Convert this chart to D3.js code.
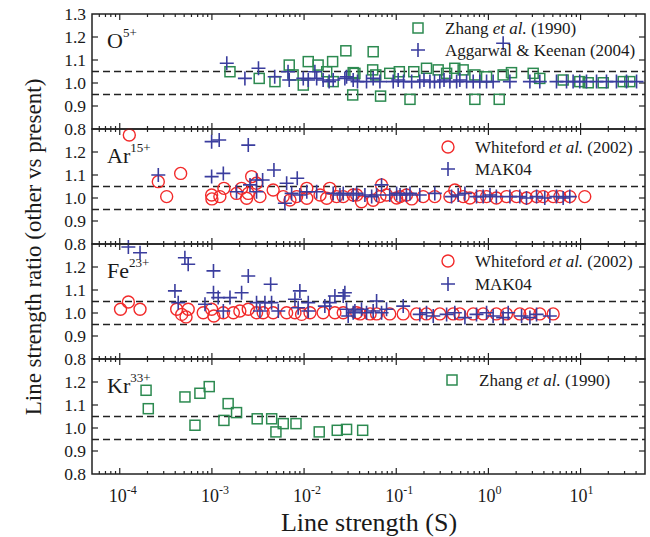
<!DOCTYPE html>
<html>
<head>
<meta charset="utf-8">
<script src="https://cdn.jsdelivr.net/npm/d3@7"></script>
<style>
  body { margin: 0; background: #fff; }
  text { font-family: "Liberation Serif", "Times New Roman", serif; fill: #1a1a1a; }
</style>
</head>
<body>
<svg id="chart" width="650" height="537"></svg>
<script>
// ---- data: [line strength S, ratio] ----
const oZhang = [[1.57e-3,1.049],[3.26e-3,1.020],[4.83e-3,1.006],[6.9e-3,1.078],[7.6e-3,1.035],[9.8e-3,0.991],[1.11e-2,1.093],[1.42e-2,1.078],[1.76e-2,1.049],[2.04e-2,1.093],[2.07e-2,1.006],[2.84e-2,1.140],[3.37e-2,0.948],[3.41e-2,1.045],[3.56e-2,1.042],[5.55e-2,1.057],[5.62e-2,1.136],[6.0e-2,1.035],[6.76e-2,0.943],[8.5e-2,1.042],[0.108,1.049],[0.141,0.929],[0.155,1.049],[0.213,1.064],[0.285,1.057],[0.352,1.042],[0.432,1.064],[0.532,1.057],[0.713,1.035],[0.713,0.929],[0.955,1.027],[1.31,0.929],[1.445,1.035],[1.78,1.045],[3.06,1.042],[3.61,1.020],[6.47,1.013],[9.8,1.006],[12.1,1.001],[17.6,1.001],[29,1.006],[34.2,1.006]];
const oAggarwal = [[1.45e-3,1.086],[2.28e-3,1.020],[3.2e-3,1.064],[4.8e-3,1.027],[6.7e-3,1.049],[6.9e-3,1.013],[9.8e-3,1.020],[1.11e-2,1.013],[1.31e-2,1.049],[1.37e-2,1.020],[1.61e-2,1.013],[1.87e-2,1.006],[2.07e-2,1.013],[2.77e-2,1.020],[2.89e-2,1.027],[3.41e-2,1.013],[3.8e-2,1.006],[4.76e-2,1.006],[5.62e-2,1.020],[6.65e-2,1.006],[9.27e-2,1.006],[0.105,1.013],[0.12,1.006],[0.147,1.006],[0.180,1.006],[0.2,1.013],[0.232,1.006],[0.26,1.006],[0.297,1.006],[0.33,1.013],[0.382,1.006],[0.452,1.006],[0.49,1.013],[0.58,1.006],[0.684,1.006],[0.807,1.006],[0.955,1.006],[1.125,1.006],[1.445,1.173],[1.71,1.006],[2.82,1.006],[3.61,1.006],[5.48,1.006],[7.04,1.006],[8.3,1.006],[9.8,1.006],[11.6,1.006],[14.9,1.006],[19.1,1.006],[24.5,1.006],[31.5,1.006],[40.5,1.006]];
const arWhiteford = [[1.27e-4,1.274],[2.62e-4,1.071],[3.23e-4,1.006],[4.58e-4,1.107],[9.93e-4,1.013],[1.0e-3,0.996],[1.22e-3,1.006],[1.35e-3,1.042],[1.85e-3,1.020],[2.1e-3,1.042],[2.38e-3,0.999],[2.48e-3,1.020],[2.7e-3,1.093],[3.05e-3,1.064],[3.32e-3,1.006],[4.62e-3,1.035],[5.94e-3,1.006],[7.03e-3,0.991],[8.3e-3,1.006],[1.07e-2,1.042],[1.07e-2,0.999],[1.49e-2,1.013],[1.76e-2,0.999],[1.9e-2,1.042],[2.25e-2,1.006],[2.66e-2,1.006],[3.41e-2,1.013],[3.72e-2,1.013],[4.2e-2,0.984],[5.62e-2,0.990],[6.65e-2,1.006],[6.93e-2,1.057],[7.85e-2,1.013],[0.101,1.0],[0.110,1.006],[0.129,1.013],[0.147,0.996],[0.196,1.006],[0.262,1.006],[0.382,1.006],[0.432,1.035],[0.532,1.006],[0.63,1.0],[0.807,1.006],[0.955,1.006],[1.22,1.0],[1.57,1.006],[2.02,1.006],[2.59,1.0],[3.33,1.006],[3.93,1.006],[5.04,1.006],[5.96,1.006],[7.64,1.006],[11.1,1.006]];
const arMak = [[2.62e-4,1.1],[9.93e-4,1.245],[1.2e-3,1.252],[2.48e-3,1.23],[9.93e-4,1.093],[1.33e-3,1.107],[1.85e-3,1.027],[2.59e-3,1.057],[3.05e-3,1.078],[3.55e-3,1.078],[3.05e-3,1.027],[4.71e-3,1.122],[6.47e-3,1.064],[6.19e-3,0.977],[7.33e-3,1.020],[8.43e-3,1.086],[9.0e-3,1.013],[1.07e-2,1.027],[1.37e-2,1.027],[2.07e-2,1.020],[2.45e-2,1.013],[2.66e-2,1.020],[3.41e-2,1.013],[3.72e-2,1.020],[4.57e-2,1.013],[5.41e-2,1.006],[6.12e-2,1.013],[6.93e-2,1.057],[8.5e-2,1.013],[0.101,1.020],[0.110,1.013],[0.129,1.013],[0.141,1.020],[0.180,1.013],[0.262,1.020],[0.398,1.006],[0.47,1.013],[0.556,1.020],[0.743,1.006],[0.877,1.006],[1.04,1.013],[1.22,1.006],[1.71,1.006],[2.19,1.006],[2.59,1.0],[3.33,1.006],[4.09,1.0],[5.48,1.006],[6.47,1.0],[7.64,1.006]];
const feWhiteford = [[1.02e-4,1.016],[1.24e-4,1.048],[1.66e-4,1.016],[4.15e-4,1.016],[4.7e-4,0.994],[5.24e-4,0.983],[5.53e-4,1.016],[8.05e-4,1.001],[9.93e-4,1.016],[1.05e-3,0.987],[1.33e-3,1.001],[1.71e-3,1.001],[2.01e-3,1.009],[2.48e-3,1.016],[3.05e-3,1.001],[3.6e-3,1.001],[4.62e-3,1.001],[6.47e-3,1.001],[7.96e-3,1.001],[9.4e-3,0.994],[1.16e-2,1.001],[1.61e-2,1.001],[2.16e-2,1.001],[2.66e-2,1.001],[3.72e-2,1.001],[4.05e-2,0.996],[5.2e-2,0.996],[6.12e-2,0.996],[8.5e-2,0.996],[0.119,0.996],[0.166,0.996],[0.213,0.996],[0.297,0.996],[0.415,0.996],[0.49,0.996],[0.684,0.996],[0.877,0.996],[1.22,0.996],[1.57,0.996],[2.19,0.996],[2.82,0.996],[3.61,0.996],[5.04,0.996]];
const feMak = [[1.24e-4,1.287],[1.66e-4,1.262],[5.09e-4,1.240],[5.53e-4,1.212],[3.97e-4,1.096],[4.31e-4,1.045],[8.41e-4,1.038],[1.04e-3,1.183],[1.04e-3,1.088],[1.17e-3,1.067],[1.33e-3,1.009],[1.57e-3,1.067],[2.1e-3,1.088],[2.48e-3,1.161],[3.05e-3,1.045],[3.32e-3,1.009],[3.76e-3,1.045],[4.34e-3,1.125],[4.44e-3,1.045],[5.25e-3,1.009],[7.96e-3,1.060],[9.0e-3,1.096],[8.63e-3,1.023],[1.11e-2,1.045],[1.11e-2,1.009],[1.68e-2,1.030],[1.9e-2,1.045],[2.16e-2,1.074],[2.77e-2,1.088],[2.89e-2,1.016],[3.01e-2,0.987],[3.56e-2,1.009],[2.66e-2,1.074],[3.41e-2,1.001],[4.2e-2,1.016],[4.76e-2,1.001],[5.62e-2,1.009],[6.12e-2,1.052],[6.93e-2,1.001],[7.85e-2,1.016],[0.119,1.030],[0.180,0.994],[0.213,1.001],[0.252,0.987],[0.352,0.994],[0.432,1.001],[0.556,0.980],[0.743,0.994],[0.955,1.001],[1.125,0.987],[1.445,0.980],[1.64,1.001],[2.29,0.987],[2.82,0.980],[3.33,0.994],[4.64,0.987]];
const krZhang = [[1.93e-4,1.164],[2.04e-4,1.084],[5.1e-4,1.135],[6.55e-4,1.012],[7.41e-4,1.151],[9.35e-4,1.180],[1.35e-3,1.033],[1.5e-3,1.106],[1.85e-3,1.067],[3.1e-3,1.040],[4.45e-3,1.040],[4.95e-3,0.983],[5.94e-3,1.019],[8.17e-3,1.019],[1.46e-2,0.983],[2.29e-2,0.990],[2.89e-2,0.994],[4.32e-2,0.990]];

const xTickValues = [1e-4, 1e-3, 1e-2, 1e-1, 1, 10];
const xTickExponents = ['-4', '-3', '-2', '-1', '0', '1'];
const yTicksTop = [0.8, 0.9, 1.0, 1.1, 1.2, 1.3];
const yTicksOther = [0.8, 0.9, 1.0, 1.1, 1.2];
const guideLines = [0.95, 1.05];

const GREEN = '#2c8a50', BLUE = '#3a3d9e', RED = '#f22a2a';

const panels = [
  { ion: 'O', charge: '5+', yTicks: yTicksTop,
    series: [{ data: oZhang, sym: 'square', label: 'Zhang', etal: true, year: ' (1990)' },
             { data: oAggarwal, sym: 'plus', label: 'Aggarwal & Keenan (2004)' }],
    legend: { x: 418, y: [14, 36] } },
  { ion: 'Ar', charge: '15+', yTicks: yTicksOther,
    series: [{ data: arWhiteford, sym: 'circle', label: 'Whiteford', etal: true, year: ' (2002)' },
             { data: arMak, sym: 'plus', label: 'MAK04' }],
    legend: { x: 448, y: [18, 40] } },
  { ion: 'Fe', charge: '23+', yTicks: yTicksOther,
    series: [{ data: feWhiteford, sym: 'circle', label: 'Whiteford', etal: true, year: ' (2002)' },
             { data: feMak, sym: 'plus', label: 'MAK04' }],
    legend: { x: 448, y: [17, 40] } },
  { ion: 'Kr', charge: '33+', yTicks: yTicksOther,
    series: [{ data: krZhang, sym: 'square', label: 'Zhang', etal: true, year: ' (1990)' }],
    legend: { x: 452, y: [21] } }
];

const left = 92, right = 645, top0 = 14, panelH = 115;

const svg = d3.select('#chart');

const x = d3.scaleLog().domain([5e-5, 50]).range([left, right]);

// minor ticks 2..9 per decade within the domain
const minorX = [];
for (let e = -5; e <= 1; e++) {
  for (let m = 2; m <= 9; m++) {
    const v = m * Math.pow(10, e);
    if (v > 5e-5 && v < 50) minorX.push(v);
  }
}

function drawMarker(g, sym, color) {
  if (sym === 'square') {
    g.append('rect').attr('x', -5).attr('y', -5).attr('width', 10).attr('height', 10)
      .attr('fill', 'none').attr('stroke', color).attr('stroke-width', 1.5);
  } else if (sym === 'circle') {
    g.append('circle').attr('r', 6).attr('fill', 'none')
      .attr('stroke', color).attr('stroke-width', 1.4);
  } else {
    g.append('path').attr('d', 'M-7,0H7M0,-7V7')
      .attr('stroke', color).attr('stroke-width', 1.6);
  }
}
const colorOf = { square: GREEN, circle: RED, plus: BLUE };

panels.forEach((p, i) => {
  const top = top0 + i * panelH;
  const bottom = top + panelH;
  const y = d3.scaleLinear().domain([0.8, 1.3]).range([bottom, top]);
  const g = svg.append('g').attr('class', 'panel');

  // dashed guide lines
  g.selectAll('.guide')
    .data(guideLines)
    .join('line')
    .attr('x1', left).attr('x2', right)
    .attr('y1', d => y(d)).attr('y2', d => y(d))
    .attr('stroke', '#222').attr('stroke-width', 1.3)
    .attr('stroke-dasharray', '7,4');

  // x ticks (inward at top and bottom)
  const xt = g.append('g');
  xTickValues.forEach(v => {
    xt.append('line').attr('x1', x(v)).attr('x2', x(v)).attr('y1', bottom).attr('y2', bottom - 6);
    xt.append('line').attr('x1', x(v)).attr('x2', x(v)).attr('y1', top).attr('y2', top + 6);
  });
  minorX.forEach(v => {
    xt.append('line').attr('x1', x(v)).attr('x2', x(v)).attr('y1', bottom).attr('y2', bottom - 3);
    xt.append('line').attr('x1', x(v)).attr('x2', x(v)).attr('y1', top).attr('y2', top + 3);
  });
  xt.selectAll('line').attr('stroke', '#222').attr('stroke-width', 1.2);

  // y ticks (inward left and right)
  const yt = g.append('g');
  [0.9, 1.0, 1.1, 1.2].forEach(v => {
    yt.append('line').attr('x1', left).attr('x2', left + 6).attr('y1', y(v)).attr('y2', y(v));
    yt.append('line').attr('x1', right).attr('x2', right - 6).attr('y1', y(v)).attr('y2', y(v));
  });
  yt.selectAll('line').attr('stroke', '#222').attr('stroke-width', 1.2);

  g.selectAll('.ylab')
    .data(p.yTicks)
    .join('text')
    .attr('class', 'ylab')
    .attr('x', 86)
    .attr('y', d => y(d))
    .attr('dy', '0.35em')
    .attr('text-anchor', 'end')
    .style('font-size', '17.5px')
    .text(d => d.toFixed(1));

  // points
  p.series.forEach(s => {
    const color = colorOf[s.sym];
    g.selectAll(null)
      .data(s.data)
      .join('g')
      .attr('transform', d => `translate(${x(d[0])},${y(d[1])})`)
      .each(function () { drawMarker(d3.select(this), s.sym, color); });
  });

  // frame
  g.append('rect')
    .attr('x', left).attr('y', top)
    .attr('width', right - left).attr('height', panelH)
    .attr('fill', 'none').attr('stroke', '#222').attr('stroke-width', 1.5);

  // ion label
  const ion = g.append('text').attr('x', 107).attr('y', top + 34).style('font-size', '22px');
  ion.append('tspan').text(p.ion);
  ion.append('tspan').attr('dy', -11).style('font-size', '13px').text(p.charge);

  // legend
  p.series.forEach((s, k) => {
    const ly = top + p.legend.y[k];
    const lg = g.append('g').attr('transform', `translate(${p.legend.x},${ly})`);
    drawMarker(lg, s.sym, colorOf[s.sym]);
    const t = g.append('text').attr('x', p.legend.x + 27).attr('y', ly + 6).style('font-size', '17px');
    t.append('tspan').text(s.label);
    if (s.etal) {
      t.append('tspan').text(' ');
      t.append('tspan').style('font-style', 'italic').text('et al.');
      t.append('tspan').text(s.year);
    }
  });
});

// x tick labels 10^n
const bottomY = top0 + 4 * panelH;
xTickValues.forEach((v, i) => {
  const t = svg.append('text')
    .attr('x', x(v) - 11)
    .attr('y', bottomY + 28)
    .style('font-size', '18px');
  t.append('tspan').text('10');
  t.append('tspan').attr('dy', -8).style('font-size', '12px').text(xTickExponents[i]);
});

// axis titles
svg.append('text')
  .attr('x', 369).attr('y', 531)
  .attr('text-anchor', 'middle')
  .style('font-size', '26px')
  .text('Line strength (S)');

svg.append('text')
  .attr('transform', 'translate(41,247) rotate(-90)')
  .attr('text-anchor', 'middle')
  .style('font-size', '23px')
  .text('Line strength ratio (other vs present)');
</script>
</body>
</html>
